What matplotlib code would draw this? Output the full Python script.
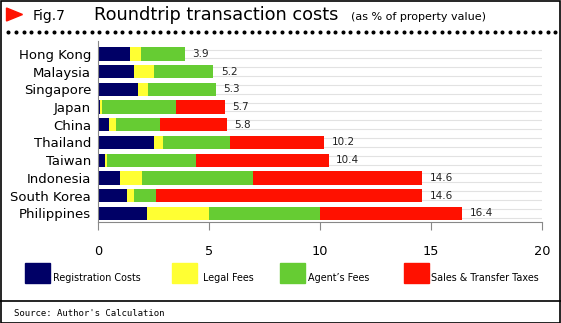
import numpy as np
import matplotlib.pyplot as plt
from matplotlib.patches import Polygon, Rectangle
from matplotlib.lines import Line2D

countries = ['Hong Kong', 'Malaysia', 'Singapore', 'Japan', 'China',
             'Thailand', 'Taiwan', 'Indonesia', 'South Korea', 'Philippines']
registration = [1.45, 1.6, 1.8, 0.1, 0.5, 2.5, 0.3, 1.0, 1.3, 2.2]
legal = [0.5, 0.9, 0.45, 0.1, 0.3, 0.45, 0.1, 1.0, 0.3, 2.8]
agent = [1.95, 2.7, 3.05, 3.3, 2.0, 3.0, 4.0, 5.0, 1.0, 5.0]
taxes = [0.0, 0.0, 0.0, 2.2, 3.0, 4.25, 6.0, 7.6, 12.0, 6.4]
totals = ['3.9', '5.2', '5.3', '5.7', '5.8', '10.2', '10.4', '14.6', '14.6', '16.4']

series = [registration, legal, agent, taxes]
names = ['Registration Costs', 'Legal Fees', "Agent\u2019s Fees", 'Sales & Transfer Taxes']
colors = ['#000066', '#ffff33', '#66cc33', '#ff1100']

W, H = 561, 323
fig = plt.figure(figsize=(W / 100, H / 100), dpi=100)

# plot area
ax = fig.add_axes([98 / W, 1 - 222.3 / H, 444 / W, 181.6 / H])
y = np.arange(len(countries))

# light grid lines, two per row
grid_y = np.arange(-0.25, len(countries), 0.5)
ax.hlines(grid_y, 0, 20, color='#e2e2e2', lw=0.8, zorder=0)

left = np.zeros(len(countries))
for vals, c in zip(series, colors):
    vals = np.array(vals)
    ax.barh(y, vals, left=left, height=0.75, color=c, zorder=2)
    left = left + vals

for i, t in enumerate(totals):
    ax.text(left[i] + 0.33, y[i], t, va='center', ha='left', fontsize=7.5, color='#222222')

ax.set_xlim(0, 20)
ax.set_ylim(9.51, -0.75)
ax.set_yticks(y)
ax.set_yticklabels(countries, fontsize=9.5)
ax.tick_params(axis='y', length=0, pad=5)
ax.set_xticks([0, 5, 10, 15, 20])
ax.tick_params(axis='x', length=6, color='#888888', labelsize=9.3, pad=10)
for s in ['top', 'right']:
    ax.spines[s].set_visible(False)
ax.spines['left'].set_color('#888888')
ax.spines['bottom'].set_color('#888888')

# title block
fig.patches.append(Polygon([[6.5 / W, 1 - 8 / H], [6.5 / W, 1 - 21 / H], [22.5 / W, 1 - 14.5 / H]],
                           closed=True, color='#ff1100', transform=fig.transFigure))
fig.text(33 / W, 1 - 16 / H, 'Fig.7', fontsize=10, va='center', ha='left')
fig.text(94 / W, 1 - 15 / H, 'Roundtrip transaction costs', fontsize=12.8, va='center', ha='left')
fig.text(351 / W, 1 - 17 / H, '(as % of property value)', fontsize=8, va='center', ha='left')
dots_x = np.arange(8.3, W - 2, 7.6)
fig.lines.append(Line2D(dots_x / W, np.full(len(dots_x), 1 - 31.5 / H), ls='none', marker='o',
                        ms=1.9, color='black', transform=fig.transFigure))

# legend
box_x = [25, 172, 280, 404]
text_x = [52.6, 203, 308, 431]
for bx, tx, c, n in zip(box_x, text_x, colors, names):
    fig.patches.append(Rectangle((bx / W, 1 - 283 / H), 25 / W, 20 / H, color=c,
                                 transform=fig.transFigure))
    fig.text(tx / W, 1 - 278 / H, n, fontsize=6.9, va='center', ha='left')

# borders and source
fig.patches.append(Rectangle((0.5 / W, 0.5 / H), (W - 2) / W, (H - 1.5) / H, fill=False,
                             ec='black', lw=1.2, transform=fig.transFigure))
fig.lines.append(Line2D([0, 1], [1 - 301 / H, 1 - 301 / H], color='black', lw=1.2,
                        transform=fig.transFigure))
fig.text(14 / W, 1 - 313 / H, "Source: Author's Calculation", fontsize=6.5,
         family='DejaVu Sans Mono', va='center', ha='left')

fig.savefig('out.png', dpi=100)
